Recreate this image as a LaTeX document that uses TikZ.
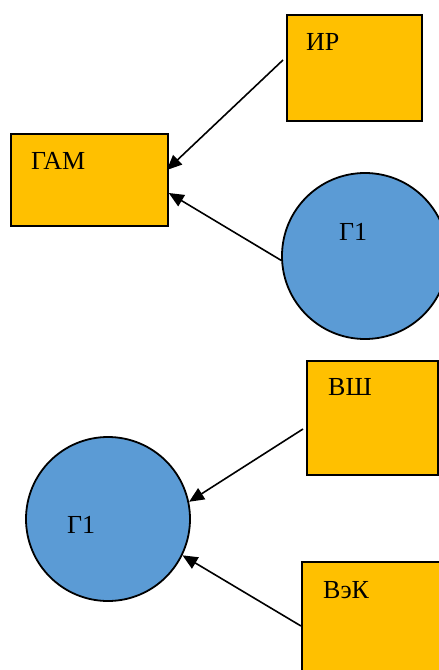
\documentclass[tikz,border=0pt]{standalone}
\usepackage{fontspec}
\setmainfont{Liberation Serif}
\usetikzlibrary{arrows.meta,calc}
\definecolor{boxorange}{HTML}{FFC000}
\definecolor{circblue}{HTML}{5B9BD5}
\tikzset{
  orangebox/.style={draw=black, line width=1.8pt, fill=boxorange, rectangle, inner sep=0pt, anchor=north west},
  bluecirc/.style={draw=black, line width=1.8pt, fill=circblue, circle, inner sep=0pt, minimum size=166pt},
  lbl/.style={anchor=base west, inner sep=0pt, font=\fontsize{26}{31}\selectfont},
  conn/.style={line width=1.6pt, -{Triangle[length=15pt,width=13pt]}}
}
\begin{document}
\begin{tikzpicture}[x=1pt,y=-1pt]
\useasboundingbox (0,0) rectangle (439,670);
\begin{scope}
\clip (0,0) rectangle (439,670);
% top part
\node[orangebox, minimum width=135pt, minimum height=106pt] (ir) at (286,14) {};
\node[orangebox, minimum width=157pt, minimum height=92pt] (gam) at (10,133) {};
\node[bluecirc] (g1a) at (365,256) {};
% bottom part
\node[orangebox, minimum width=131pt, minimum height=114pt] (vsh) at (306,360) {};
\node[bluecirc, minimum size=164pt] (g1b) at (108,519) {};
\node[orangebox, minimum width=150pt, minimum height=130pt] (vek) at (301,561) {};
\end{scope}
% labels
\node[lbl] (irt) at (306,50) {ИР};
\node[lbl] (gamt) at (31,169) {ГАМ};
\node[lbl] (g1at) at (339,240) {Г1};
\node[lbl] (vsht) at (328,395) {ВШ};
\node[lbl] (g1bt) at (67,533) {Г1};
\node[lbl] (vekt) at (323,598) {ВэК};
% connectors
\coordinate (irs) at ($(ir.north west)+(-3,46)$);
\coordinate (game1) at ($(gam.north east)+(-2,37)$);
\coordinate (game2) at ($(gam.north east)+(0,60)$);
\coordinate (vshs) at ($(vsh.north west)+(-3,69)$);
\coordinate (veks) at ($(vek.north west)+(0,65)$);
\draw[conn] (irs) -- (game1);
\draw[conn] (g1a.183) -- (game2);
\draw[conn] (vshs) -- (g1b.12);
\draw[conn] (veks) -- (g1b.-26);
\end{tikzpicture}
\end{document}
